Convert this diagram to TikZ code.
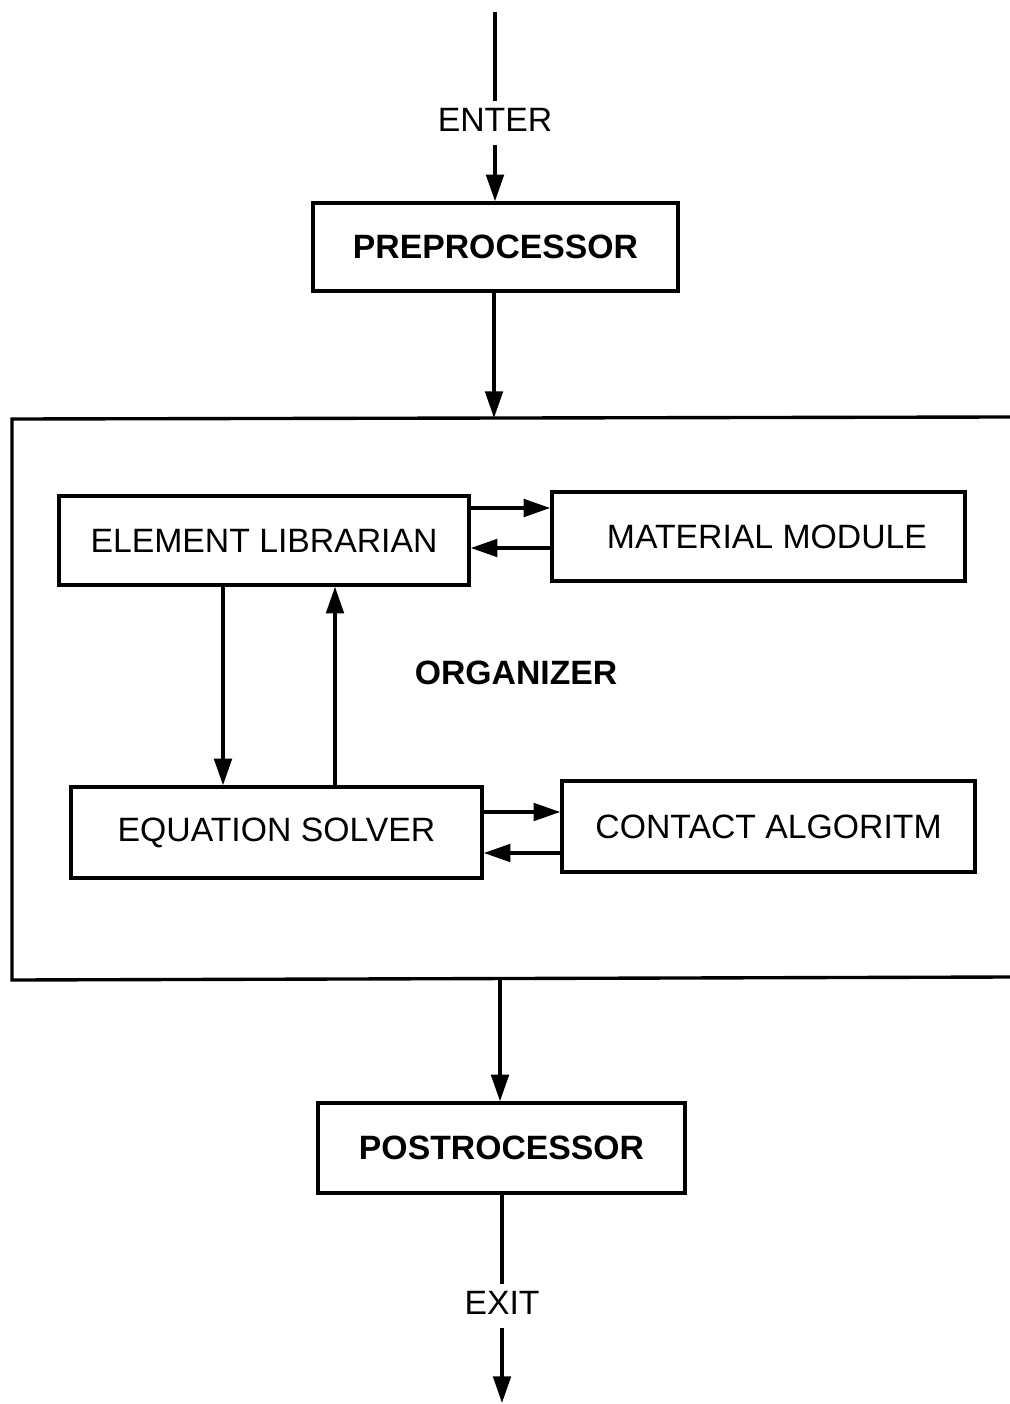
\documentclass[tikz,border=0pt]{standalone}
\usepackage{fontspec}
\setmainfont{Liberation Sans}
\usetikzlibrary{arrows.meta}
\begin{document}
\begin{tikzpicture}[x=0.025cm,y=-0.025cm,
  line width=2.4pt,
  every node/.style={font=\fontsize{24}{28}\selectfont},
  blk/.style={draw, line width=2.4pt, inner sep=0pt, align=center},
  boldlbl/.style={font=\fontsize{24}{28}\selectfont\bfseries},
  arr/.style={-{Triangle[length=19pt,width=12.5pt]}}]
  \useasboundingbox (0,0) rectangle (1010,1404);

  % entry
  \node[inner sep=4pt] (enter) at (495,120) {ENTER};
  \coordinate (start) at (495,12);
  \node[blk, boldlbl, minimum width=9.125cm, minimum height=2.2cm] (pre) at (495.5,247) {PREPROCESSOR};
  \draw (start) -- (enter.north);
  \draw[arr] (enter.south) ++(0,6) -- (pre.north -| enter);

  % organizer frame (open on the right)
  \coordinate (orgtr) at (1010,417);
  \coordinate (orgtl) at (12,419);
  \coordinate (orgbl) at (12,980);
  \coordinate (orgbr) at (1010,977);
  \draw (orgtr) -- (orgtl) -- (orgbl) -- (orgbr);
  \coordinate (orgin) at (494,418);
  \coordinate (orgout) at (500,979);
  \draw[arr] (pre.south -| orgin) -- (orgin);

  \node[boldlbl] (org) at (516,673) {ORGANIZER};

  % modules
  \node[blk, minimum width=10.25cm, minimum height=2.225cm] (el) at (264,540.5) {ELEMENT LIBRARIAN};
  \node[blk, minimum width=10.325cm, minimum height=2.225cm] (mm) at (758.5,536.5) {\hspace*{12pt}MATERIAL MODULE};
  \node[blk, minimum width=10.275cm, minimum height=2.275cm] (es) at (276.5,832.5) {EQUATION SOLVER};
  \node[blk, minimum width=10.325cm, minimum height=2.275cm] (ca) at (768.5,826.5) {CONTACT ALGORITM};

  \draw[arr] (el.east |- 0,508) -- (mm.west |- 0,508);
  \draw[arr] (mm.west |- 0,548) -- (el.east |- 0,548);
  \draw[arr] (el.south -| 223,0) -- (es.north -| 223,0);
  \draw[arr] (es.north -| 335,0) -- (el.south -| 335,0);
  \draw[arr] (es.east |- 0,812) -- (ca.west |- 0,812);
  \draw[arr] (ca.west |- 0,853) -- (es.east |- 0,853);

  % exit
  \node[blk, boldlbl, minimum width=9.175cm, minimum height=2.25cm] (post) at (501.5,1148) {POSTROCESSOR};
  \draw[arr] (orgout) -- (post.north -| orgout);
  \node[inner sep=4pt] (exit) at (502,1303) {EXIT};
  \coordinate (finish) at (502,1403);
  \draw (post.south -| exit) -- (exit.north);
  \draw[arr] (exit.south) ++(0,6) -- (finish);
\end{tikzpicture}
\end{document}
